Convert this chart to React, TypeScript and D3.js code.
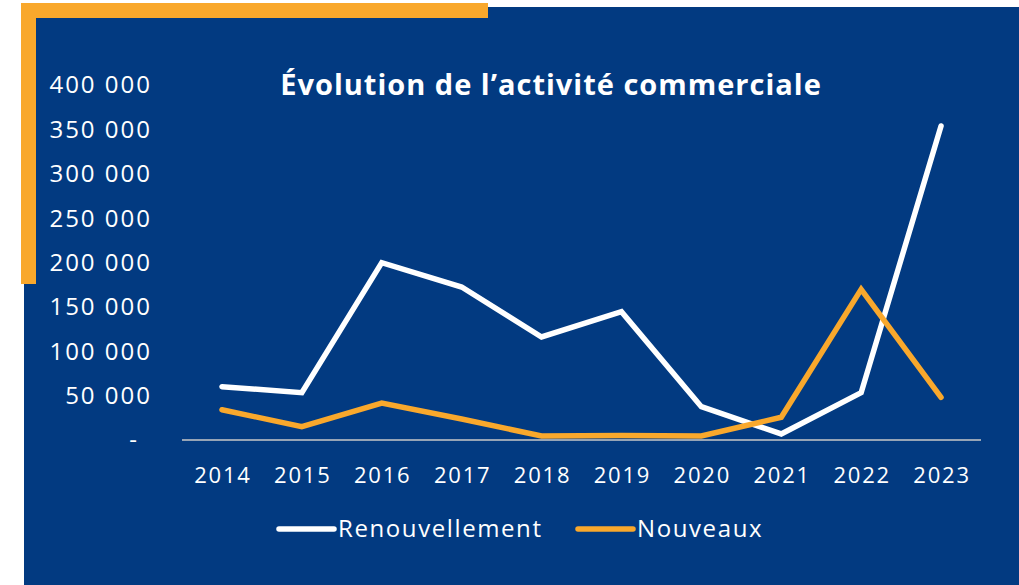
import React from "react";
import * as d3 from "d3";

const years = ["2014", "2015", "2016", "2017", "2018", "2019", "2020", "2021", "2022", "2023"];
const renouvellement = [60100, 53300, 199800, 172400, 116100, 144600, 37500, 6800, 53300, 353800];
const nouveaux = [34100, 15000, 41700, 23700, 4500, 5000, 4500, 25600, 169800, 48100];
const yTicks = [0, 50000, 100000, 150000, 200000, 250000, 300000, 350000, 400000];
const title = "Évolution de l’activité commerciale";
const seriesNames = ["Renouvellement", "Nouveaux"];

const W = 1019;
const H = 585;
const BLUE = "#023a81";
const ORANGE = "#f9a82c";
const FONT = "'Open Sans', Lato, sans-serif";

export default function App() {
  const x = d3.scaleBand<string>().domain(years).range([182, 981]);
  const y = d3.scaleLinear().domain([0, 400000]).range([440, 85]);
  const cx = (d: string) => (x(d) as number) + x.bandwidth() / 2;
  const line = d3
    .line<number>()
    .x((_, i) => cx(years[i]))
    .y((v) => y(v));
  const fmt = (v: number) =>
    v === 0 ? "-" : d3.format(",")(v).replace(/,/g, " ");

  const series = [
    { name: seriesNames[0], values: renouvellement, color: "#ffffff" },
    { name: seriesNames[1], values: nouveaux, color: ORANGE },
  ];

  const legendX = [279, 578];

  return (
    <svg
      width={W}
      height={H}
      style={{ position: "absolute", left: 0, top: 0, display: "block" }}
      fontFamily={FONT}
    >
      <rect x={0} y={0} width={W} height={H} fill="#ffffff" />
      <rect x={24} y={7} width={W - 24} height={H - 7} fill={BLUE} />
      <rect x={21} y={3} width={467} height={15} fill={ORANGE} />
      <rect x={21} y={3} width={15} height={281} fill={ORANGE} />

      <text
        x={551}
        y={95}
        textAnchor="middle"
        fill="#ffffff"
        fontSize={29}
        fontWeight={700}
        letterSpacing={1}
      >
        {title}
      </text>

      {yTicks.map((t) => (
        <text
          key={t}
          x={t === 0 ? 139 : 152}
          y={y(t)}
          dy="0.35em"
          textAnchor="end"
          fill="#ffffff"
          fontSize={24}
          fontWeight={400}
          letterSpacing={2}
        >
          {fmt(t)}
        </text>
      ))}

      <line x1={182} x2={981} y1={y(0)} y2={y(0)} stroke="#c8c8c8" strokeWidth={1.5} />

      {years.map((yr) => (
        <text
          key={yr}
          x={cx(yr) + 1}
          y={475}
          dy="0.35em"
          textAnchor="middle"
          fill="#ffffff"
          fontSize={22}
          letterSpacing={1.8}
        >
          {yr}
        </text>
      ))}

      {series.map((s) => (
        <path
          key={s.name}
          d={line(s.values) as string}
          fill="none"
          stroke={s.color}
          strokeWidth={5.5}
          strokeLinecap="round"
          strokeLinejoin="miter"
        />
      ))}

      {series.map((s, i) => (
        <g key={s.name}>
          <line
            x1={legendX[i]}
            x2={legendX[i] + 55}
            y1={529}
            y2={529}
            stroke={s.color}
            strokeWidth={5.5}
            strokeLinecap="round"
          />
          <text
            x={legendX[i] + 59}
            y={529}
            dy="0.35em"
            fill="#ffffff"
            fontSize={24}
            letterSpacing={1.6}
          >
            {s.name}
          </text>
        </g>
      ))}
    </svg>
  );
}
